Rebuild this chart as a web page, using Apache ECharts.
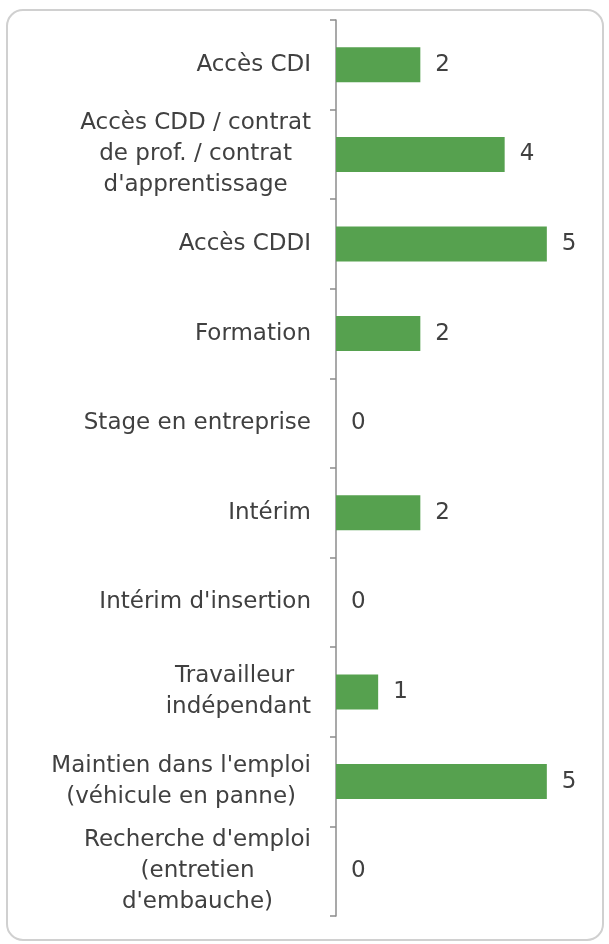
<!DOCTYPE html>
<html lang="fr">
<head>
    <meta charset="UTF-8">
    <title>Sorties</title>
    <script type="text/javascript" src="https://cdn.jsdelivr.net/npm/echarts@6/dist/echarts.min.js"></script>
    <style>
        html, body { margin: 0; padding: 0; background: #fff; }
    </style>
</head>
<body>
    <div id="main" style="width: 609px;height:944px;"></div>
    <script type="text/javascript">
        // catégories (de haut en bas)
        const categories = [
            'Accès CDI',
            'Accès CDD / contrat\nde prof. / contrat\nd\'apprentissage',
            'Accès CDDI',
            'Formation',
            'Stage en entreprise',
            'Intérim',
            'Intérim d\'insertion',
            'Travailleur \nindépendant',
            'Maintien dans l\'emploi\n(véhicule en panne)',
            'Recherche d\'emploi\n(entretien\nd\'embauche)'
        ];
        const values = [2, 4, 5, 2, 0, 2, 0, 1, 5, 0];

        const myChart = echarts.init(document.getElementById('main'));
        const font = '"DejaVu Sans", sans-serif';

        option = {
            animation: false,
            graphic: [{
                type: 'rect',
                shape: { x: 7, y: 10, width: 596, height: 930, r: 16 },
                style: { fill: 'none', stroke: '#d0d0d0', lineWidth: 2 },
                silent: true
            }],
            grid: {
                left: 336,
                top: 20,
                width: 253,
                height: 896
            },
            xAxis: {
                type: 'value',
                min: 0,
                max: 6,
                show: false
            },
            yAxis: {
                type: 'category',
                inverse: true,
                data: categories,
                axisLine: { lineStyle: { color: '#8c8c8c', width: 1.5 } },
                axisTick: { show: true, alignWithLabel: false, length: 6, lineStyle: { color: '#8c8c8c', width: 1.5 } },
                axisLabel: {
                    margin: 25,
                    align: 'right',
                    formatter: function (v) {
                        return v.split('\n').map(function (l) { return '{c|' + l + '}'; }).join('\n');
                    },
                    rich: {
                        c: {
                            align: 'center',
                            fontFamily: font,
                            fontSize: 23,
                            lineHeight: 31,
                            color: '#404040'
                        }
                    }
                }
            },
            series: [{
                type: 'bar',
                data: values,
                barWidth: 35,
                itemStyle: { color: '#56a14f' },
                label: {
                    show: true,
                    position: 'right',
                    distance: 15,
                    fontFamily: font,
                    fontSize: 23,
                    color: '#404040'
                }
            }]
        };
        myChart.setOption(option);
    </script>
</body>
</html>
